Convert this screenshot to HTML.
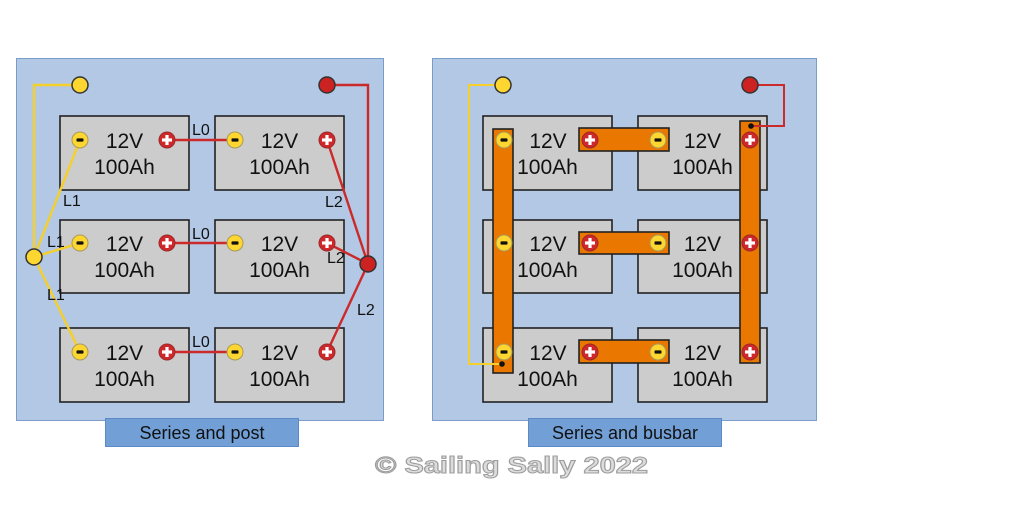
<!DOCTYPE html>
<html><head><meta charset="utf-8"><style>
html,body{margin:0;padding:0;background:#fff;width:1024px;height:505px;overflow:hidden}
svg{display:block}
text{font-family:"Liberation Sans",sans-serif}
</style></head><body>
<svg width="1024" height="505" viewBox="0 0 1024 505" xmlns="http://www.w3.org/2000/svg">
<defs>
  <g id="neg"><circle r="8" fill="#fdd630" stroke="#a89a5a" stroke-width="1"/><rect x="-3.5" y="-1.6" width="7" height="3.2" rx="0.8" fill="#111"/></g>
  <g id="pos"><circle r="8" fill="#d0282a" stroke="#9a2a2a" stroke-width="1"/><rect x="-5" y="-1.6" width="10" height="3.2" fill="#fff"/><rect x="-1.6" y="-5" width="3.2" height="10" fill="#fff"/></g>
  <g id="bat"><rect x="0" y="0" width="129" height="74" fill="#cccccc" stroke="#222" stroke-width="1.6"/></g>
</defs>

<!-- ============ LEFT PANEL ============ -->
<rect x="16.5" y="58.5" width="367" height="362" fill="#b2c8e4" stroke="#7a9dcb" stroke-width="1"/>

<g>
  <rect x="60" y="116" width="129" height="74" fill="#ccc" stroke="#222" stroke-width="1.6"/>
  <rect x="215" y="116" width="129" height="74" fill="#ccc" stroke="#222" stroke-width="1.6"/>
  <rect x="60" y="220" width="129" height="73" fill="#ccc" stroke="#222" stroke-width="1.6"/>
  <rect x="215" y="220" width="129" height="73" fill="#ccc" stroke="#222" stroke-width="1.6"/>
  <rect x="60" y="328" width="129" height="74" fill="#ccc" stroke="#222" stroke-width="1.6"/>
  <rect x="215" y="328" width="129" height="74" fill="#ccc" stroke="#222" stroke-width="1.6"/>
</g>
<g font-size="21" fill="#111" text-anchor="middle">
  <text x="124.5" y="148">12V</text><text x="124.5" y="174">100Ah</text>
  <text x="279.5" y="148">12V</text><text x="279.5" y="174">100Ah</text>
  <text x="124.5" y="251">12V</text><text x="124.5" y="277">100Ah</text>
  <text x="279.5" y="251">12V</text><text x="279.5" y="277">100Ah</text>
  <text x="124.5" y="360">12V</text><text x="124.5" y="386">100Ah</text>
  <text x="279.5" y="360">12V</text><text x="279.5" y="386">100Ah</text>
</g>

<!-- wires left -->
<g fill="none" stroke-width="2.4" stroke-linejoin="miter">
  <polyline points="80,85 34,85 34,257" stroke="#f5cf2a"/>
  <line x1="34" y1="257" x2="80" y2="140" stroke="#f5cf2a"/>
  <line x1="34" y1="257" x2="80" y2="243" stroke="#f5cf2a"/>
  <line x1="34" y1="257" x2="80" y2="352" stroke="#f5cf2a"/>
  <polyline points="327,85 368,85 368,264" stroke="#cc2a2a"/>
  <line x1="368" y1="264" x2="327" y2="140" stroke="#cc2a2a"/>
  <line x1="368" y1="264" x2="327" y2="243" stroke="#cc2a2a"/>
  <line x1="368" y1="264" x2="327" y2="352" stroke="#cc2a2a"/>
  <line x1="167" y1="140" x2="235" y2="140" stroke="#cc2a2a"/>
  <line x1="167" y1="243" x2="235" y2="243" stroke="#cc2a2a"/>
  <line x1="167" y1="352" x2="235" y2="352" stroke="#cc2a2a"/>
</g>
<circle cx="80" cy="85" r="8" fill="#fdd630" stroke="#333" stroke-width="1.5"/>
<circle cx="327" cy="85" r="8" fill="#cc2222" stroke="#333" stroke-width="1.5"/>
<circle cx="34" cy="257" r="8" fill="#fdd630" stroke="#333" stroke-width="1.5"/>
<circle cx="368" cy="264" r="8" fill="#cc2222" stroke="#333" stroke-width="1.5"/>

<use href="#neg" x="80" y="140"/><use href="#pos" x="167" y="140"/><use href="#neg" x="235" y="140"/><use href="#pos" x="327" y="140"/>
<use href="#neg" x="80" y="243"/><use href="#pos" x="167" y="243"/><use href="#neg" x="235" y="243"/><use href="#pos" x="327" y="243"/>
<use href="#neg" x="80" y="352"/><use href="#pos" x="167" y="352"/><use href="#neg" x="235" y="352"/><use href="#pos" x="327" y="352"/>

<g font-size="16" fill="#111">
  <text x="192" y="135">L0</text>
  <text x="192" y="239">L0</text>
  <text x="192" y="347">L0</text>
  <text x="63" y="206">L1</text>
  <text x="47" y="247">L1</text>
  <text x="47" y="300">L1</text>
  <text x="325" y="207">L2</text>
  <text x="327" y="263">L2</text>
  <text x="357" y="315">L2</text>
</g>

<rect x="105.5" y="418.5" width="193" height="28" fill="#719fd6" stroke="#5a8ac7" stroke-width="1"/>
<text x="202" y="439" font-size="18" fill="#111" text-anchor="middle">Series and post</text>

<!-- ============ RIGHT PANEL ============ -->
<rect x="432.5" y="58.5" width="384" height="362" fill="#b2c8e4" stroke="#7a9dcb" stroke-width="1"/>

<g>
  <rect x="483" y="116" width="129" height="74" fill="#ccc" stroke="#222" stroke-width="1.6"/>
  <rect x="638" y="116" width="129" height="74" fill="#ccc" stroke="#222" stroke-width="1.6"/>
  <rect x="483" y="220" width="129" height="73" fill="#ccc" stroke="#222" stroke-width="1.6"/>
  <rect x="638" y="220" width="129" height="73" fill="#ccc" stroke="#222" stroke-width="1.6"/>
  <rect x="483" y="328" width="129" height="74" fill="#ccc" stroke="#222" stroke-width="1.6"/>
  <rect x="638" y="328" width="129" height="74" fill="#ccc" stroke="#222" stroke-width="1.6"/>
</g>
<g font-size="21" fill="#111" text-anchor="middle">
  <text x="548" y="148">12V</text><text x="547.5" y="174">100Ah</text>
  <text x="702.5" y="148">12V</text><text x="702.5" y="174">100Ah</text>
  <text x="548" y="251">12V</text><text x="547.5" y="277">100Ah</text>
  <text x="702.5" y="251">12V</text><text x="702.5" y="277">100Ah</text>
  <text x="548" y="360">12V</text><text x="547.5" y="386">100Ah</text>
  <text x="702.5" y="360">12V</text><text x="702.5" y="386">100Ah</text>
</g>

<!-- busbars -->
<g fill="#ea7800" stroke="#222" stroke-width="1.6">
  <rect x="493" y="129" width="20" height="244"/>
  <rect x="740" y="121" width="20" height="242"/>
  <rect x="579" y="128" width="90" height="23"/>
  <rect x="579" y="232" width="90" height="22"/>
  <rect x="579" y="340" width="90" height="23"/>
</g>

<use href="#neg" x="504" y="140"/><use href="#pos" x="590" y="140"/><use href="#neg" x="658" y="140"/><use href="#pos" x="750" y="140"/>
<use href="#neg" x="504" y="243"/><use href="#pos" x="590" y="243"/><use href="#neg" x="658" y="243"/><use href="#pos" x="750" y="243"/>
<use href="#neg" x="504" y="352"/><use href="#pos" x="590" y="352"/><use href="#neg" x="658" y="352"/><use href="#pos" x="750" y="352"/>

<g fill="none" stroke-width="2">
  <polyline points="503,85 469,85 469,364 502,364" stroke="#f5cf2a"/>
  <polyline points="750,85 784,85 784,126 751,126" stroke="#cc2a2a"/>
</g>
<circle cx="502" cy="364" r="2.8" fill="#111"/>
<circle cx="751" cy="126" r="2.8" fill="#111"/>
<circle cx="503" cy="85" r="8" fill="#fdd630" stroke="#333" stroke-width="1.5"/>
<circle cx="750" cy="85" r="8" fill="#cc2222" stroke="#333" stroke-width="1.5"/>

<rect x="528.5" y="418.5" width="193" height="28" fill="#719fd6" stroke="#5a8ac7" stroke-width="1"/>
<text x="625" y="439" font-size="18" fill="#111" text-anchor="middle">Series and busbar</text>

<!-- watermark -->
<text x="375" y="473" font-size="23" font-weight="bold" fill="#dcdcdc" stroke="#9c9c9c" stroke-width="1" textLength="273" lengthAdjust="spacingAndGlyphs">© Sailing Sally 2022</text>
</svg>
</body></html>
